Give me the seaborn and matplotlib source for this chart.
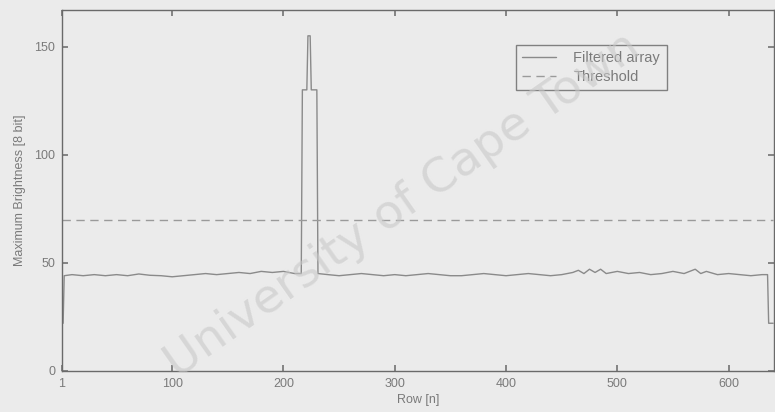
import matplotlib
matplotlib.use("Agg")
import matplotlib.pyplot as plt
import seaborn as sns
import pandas as pd

# ---- data ----
rows = [1, 2, 3, 10, 20, 30, 40, 50, 60, 70, 80, 90, 100, 110, 120, 130, 140,
        150, 160, 170, 180, 190, 200, 205, 210, 216, 217, 221, 222, 224, 225,
        230, 231, 240, 250, 260, 270, 280, 290, 300, 310, 320, 330, 340, 350,
        360, 370, 380, 390, 400, 410, 420, 430, 440, 450, 460, 465, 470, 475,
        480, 485, 490, 500, 510, 520, 530, 540, 550, 560, 570, 575, 580, 590,
        600, 610, 620, 630, 635, 636, 640]
filtered = [22, 22, 44, 44.5, 44, 44.5, 44, 44.5, 44, 44.8, 44.2, 44, 43.5,
            44, 44.5, 45, 44.5, 45, 45.5, 45, 46, 45.5, 46, 45.5, 45, 45,
            130, 130, 155, 155, 130, 130, 45, 44.5, 44, 44.5, 45, 44.5, 44,
            44.5, 44, 44.5, 45, 44.5, 44, 44, 44.5, 45, 44.5, 44, 44.5, 45,
            44.5, 44, 44.5, 45.5, 46.5, 45, 47, 45.5, 47, 45, 46, 45, 45.5,
            44.5, 45, 46, 45, 47, 45, 46, 44.5, 45, 44.5, 44, 44.5, 44.5,
            22, 22]
threshold_rows = [1, 640]
threshold_vals = [70, 70]
series_names = ["Filtered array", "Threshold"]
xticks = [1, 100, 200, 300, 400, 500, 600]
yticks = [0, 50, 100, 150]

sns.set_theme(style="white")
plt.rcParams["font.family"] = ["Liberation Sans", "DejaVu Sans"]

bg = "#ebebeb"
line_c = "#8a8a8a"
text_c = "#7a7a7a"

fig = plt.figure(figsize=(7.75, 4.12), dpi=100, facecolor=bg)
ax = fig.add_axes([0.080, 0.1, 0.919, 0.876])
ax.set_facecolor(bg)

df1 = pd.DataFrame({"Row": rows, "Value": filtered})
df2 = pd.DataFrame({"Row": threshold_rows, "Value": threshold_vals})
sns.lineplot(data=df1, x="Row", y="Value", ax=ax, color=line_c, lw=1.0,
             label=series_names[0], estimator=None, sort=False)
sns.lineplot(data=df2, x="Row", y="Value", ax=ax, color="#9a9a9a", lw=1.0,
             linestyle=(0, (6, 4)), label=series_names[1], estimator=None)

ax.set_xlim(1, 641)
ax.set_ylim(0, 167)
ax.set_xticks(xticks)
ax.set_yticks(yticks)
ax.tick_params(direction="in", length=4, color="#777777", labelcolor=text_c,
               labelsize=9, top=True, right=True, bottom=True, left=True,
               pad=5)
for s in ax.spines.values():
    s.set_color("#6a6a6a")
    s.set_linewidth(1.0)

ax.set_xlabel("Row [n]", fontsize=9, color=text_c, labelpad=3)
ax.set_ylabel("Maximum Brightness [8 bit]", fontsize=9, color=text_c, labelpad=6)

leg = ax.legend(loc="upper right", bbox_to_anchor=(0.849, 0.903),
                borderaxespad=0, frameon=True, fancybox=False, fontsize=10.5,
                handlelength=2.3, handletextpad=1.2, borderpad=0.45,
                labelspacing=0.3, labelcolor=text_c)
leg.get_frame().set_edgecolor("#666666")
leg.get_frame().set_facecolor(bg)
leg.get_frame().set_linewidth(1.0)

fig.text(0.52, 0.50, "University of Cape Town", rotation=35, fontsize=34,
         color="#c8c8c8", alpha=0.6, ha="center", va="center",
         family=["DejaVu Sans"])

fig.savefig("out.png", dpi=100, facecolor=bg)
